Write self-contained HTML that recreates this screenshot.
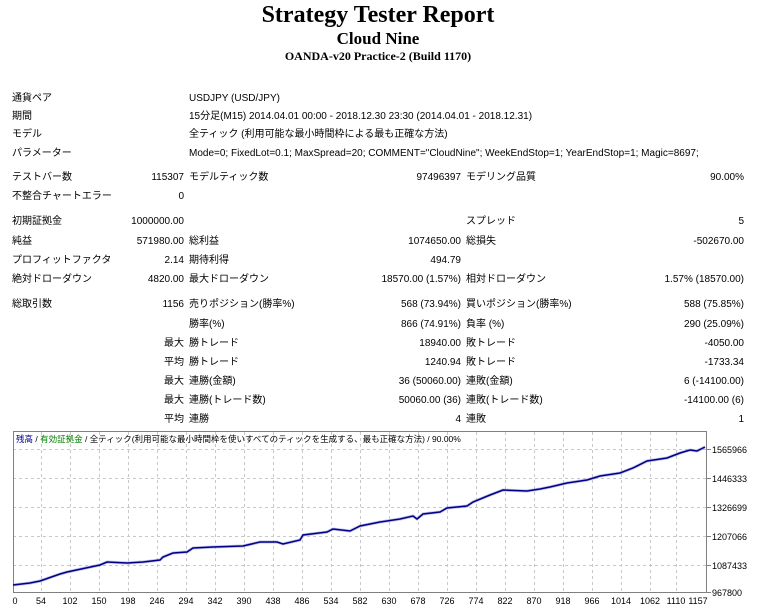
<!DOCTYPE html>
<html><head><meta charset="utf-8"><style>
body{margin:0;width:762px;height:609px;background:#fff;position:relative;overflow:hidden;font-family:"Liberation Sans","Noto Sans CJK JP",sans-serif;font-size:10px;color:#000}
.t{position:absolute;white-space:nowrap;line-height:12px;margin-top:2px}
.h{position:absolute;left:0;width:756px;text-align:center;font-family:"Liberation Serif",serif;font-weight:bold;white-space:nowrap}
.a{right:578px}.b{right:301px}.c{right:18px}
</style></head><body>
<div class="h" style="top:2px;font-size:24px">Strategy Tester Report</div>
<div class="h" style="top:29px;font-size:17px">Cloud Nine</div>
<div class="h" style="top:49px;font-size:12px">OANDA-v20 Practice-2 (Build 1170)</div>

<div class="t" style="left:12px;top:91px">通貨ペア</div><div class="t" style="left:189px;top:91px">USDJPY (USD/JPY)</div>
<div class="t" style="left:12px;top:109px">期間</div><div class="t" style="left:189px;top:109px">15分足(M15) 2014.04.01 00:00 - 2018.12.30 23:30 (2014.04.01 - 2018.12.31)</div>
<div class="t" style="left:12px;top:127px">モデル</div><div class="t" style="left:189px;top:127px">全ティック (利用可能な最小時間枠による最も正確な方法)</div>
<div class="t" style="left:12px;top:146px">パラメーター</div><div class="t" style="left:189px;top:146px">Mode=0; FixedLot=0.1; MaxSpread=20; COMMENT="CloudNine"; WeekEndStop=1; YearEndStop=1; Magic=8697;</div>

<div class="t" style="left:12px;top:170px">テストバー数</div><div class="t a" style="top:170px">115307</div><div class="t" style="left:189px;top:170px">モデルティック数</div><div class="t b" style="top:170px">97496397</div><div class="t" style="left:466px;top:170px">モデリング品質</div><div class="t c" style="top:170px">90.00%</div>
<div class="t" style="left:12px;top:189px">不整合チャートエラー</div><div class="t a" style="top:189px">0</div>

<div class="t" style="left:12px;top:214px">初期証拠金</div><div class="t a" style="top:214px">1000000.00</div><div class="t" style="left:466px;top:214px">スプレッド</div><div class="t c" style="top:214px">5</div>
<div class="t" style="left:12px;top:234px">純益</div><div class="t a" style="top:234px">571980.00</div><div class="t" style="left:189px;top:234px">総利益</div><div class="t b" style="top:234px">1074650.00</div><div class="t" style="left:466px;top:234px">総損失</div><div class="t c" style="top:234px">-502670.00</div>
<div class="t" style="left:12px;top:253px">プロフィットファクタ</div><div class="t a" style="top:253px">2.14</div><div class="t" style="left:189px;top:253px">期待利得</div><div class="t b" style="top:253px">494.79</div>
<div class="t" style="left:12px;top:272px">絶対ドローダウン</div><div class="t a" style="top:272px">4820.00</div><div class="t" style="left:189px;top:272px">最大ドローダウン</div><div class="t b" style="top:272px">18570.00 (1.57%)</div><div class="t" style="left:466px;top:272px">相対ドローダウン</div><div class="t c" style="top:272px">1.57% (18570.00)</div>

<div class="t" style="left:12px;top:297px">総取引数</div><div class="t a" style="top:297px">1156</div><div class="t" style="left:189px;top:297px">売りポジション(勝率%)</div><div class="t b" style="top:297px">568 (73.94%)</div><div class="t" style="left:466px;top:297px">買いポジション(勝率%)</div><div class="t c" style="top:297px">588 (75.85%)</div>
<div class="t" style="left:189px;top:317px">勝率(%)</div><div class="t b" style="top:317px">866 (74.91%)</div><div class="t" style="left:466px;top:317px">負率 (%)</div><div class="t c" style="top:317px">290 (25.09%)</div>
<div class="t a" style="top:336px">最大</div><div class="t" style="left:189px;top:336px">勝トレード</div><div class="t b" style="top:336px">18940.00</div><div class="t" style="left:466px;top:336px">敗トレード</div><div class="t c" style="top:336px">-4050.00</div>
<div class="t a" style="top:355px">平均</div><div class="t" style="left:189px;top:355px">勝トレード</div><div class="t b" style="top:355px">1240.94</div><div class="t" style="left:466px;top:355px">敗トレード</div><div class="t c" style="top:355px">-1733.34</div>
<div class="t a" style="top:374px">最大</div><div class="t" style="left:189px;top:374px">連勝(金額)</div><div class="t b" style="top:374px">36 (50060.00)</div><div class="t" style="left:466px;top:374px">連敗(金額)</div><div class="t c" style="top:374px">6 (-14100.00)</div>
<div class="t a" style="top:393px">最大</div><div class="t" style="left:189px;top:393px">連勝(トレード数)</div><div class="t b" style="top:393px">50060.00 (36)</div><div class="t" style="left:466px;top:393px">連敗(トレード数)</div><div class="t c" style="top:393px">-14100.00 (6)</div>
<div class="t a" style="top:412px">平均</div><div class="t" style="left:189px;top:412px">連勝</div><div class="t b" style="top:412px">4</div><div class="t" style="left:466px;top:412px">連敗</div><div class="t c" style="top:412px">1</div>

<svg style="position:absolute;left:0;top:0" width="762" height="609">
<g stroke="#c8c8c8" stroke-dasharray="3,3" stroke-width="1">
<line x1="13" x2="706" y1="449.5" y2="449.5"/><line x1="13" x2="706" y1="478.5" y2="478.5"/><line x1="13" x2="706" y1="507.5" y2="507.5"/><line x1="13" x2="706" y1="536.5" y2="536.5"/><line x1="13" x2="706" y1="565.5" y2="565.5"/>
<line x1="41.5" x2="41.5" y1="432" y2="592"/><line x1="70.5" x2="70.5" y1="432" y2="592"/><line x1="99.5" x2="99.5" y1="432" y2="592"/><line x1="128.5" x2="128.5" y1="432" y2="592"/><line x1="157.5" x2="157.5" y1="432" y2="592"/><line x1="186.5" x2="186.5" y1="432" y2="592"/><line x1="215.5" x2="215.5" y1="432" y2="592"/><line x1="244.5" x2="244.5" y1="432" y2="592"/><line x1="273.5" x2="273.5" y1="432" y2="592"/><line x1="302.5" x2="302.5" y1="432" y2="592"/><line x1="331.5" x2="331.5" y1="432" y2="592"/><line x1="360.5" x2="360.5" y1="432" y2="592"/><line x1="389.5" x2="389.5" y1="432" y2="592"/><line x1="418.5" x2="418.5" y1="432" y2="592"/><line x1="447.5" x2="447.5" y1="432" y2="592"/><line x1="476.5" x2="476.5" y1="432" y2="592"/><line x1="505.5" x2="505.5" y1="432" y2="592"/><line x1="534.5" x2="534.5" y1="432" y2="592"/><line x1="563.5" x2="563.5" y1="432" y2="592"/><line x1="592.5" x2="592.5" y1="432" y2="592"/><line x1="621.5" x2="621.5" y1="432" y2="592"/><line x1="650.5" x2="650.5" y1="432" y2="592"/><line x1="676.5" x2="676.5" y1="432" y2="592"/>
</g>
<rect x="13.5" y="431.5" width="693" height="161" fill="none" stroke="#808080"/>
<g stroke="#808080"><line x1="707" x2="711" y1="449.5" y2="449.5"/><line x1="707" x2="711" y1="478.5" y2="478.5"/><line x1="707" x2="711" y1="507.5" y2="507.5"/><line x1="707" x2="711" y1="536.5" y2="536.5"/><line x1="707" x2="711" y1="565.5" y2="565.5"/><line x1="707" x2="711" y1="592.5" y2="592.5"/></g>
<polyline fill="none" stroke="#8080d0" stroke-width="3" stroke-opacity="0.5" points="13,585 30,583 40,581 60,574 67,572 100,565 107,562 127,563 143,562 160,560 163,557 173,553 187,552 193,548 213,547 243,546 260,542 277,542 283,544 300,540 303,535 327,532 333,529 350,531 360,526 380,522 400,519 413,516 417,519 423,514 440,512 447,508 467,506 473,502 490,495 503,490 527,491 540,489 550,487 567,483 587,480 600,476 620,473 633,468 647,461 667,458 680,453 690,450 697,451 705,447"/>
<polyline fill="none" stroke="#00008b" stroke-width="1.5" points="13,585 30,583 40,581 60,574 67,572 100,565 107,562 127,563 143,562 160,560 163,557 173,553 187,552 193,548 213,547 243,546 260,542 277,542 283,544 300,540 303,535 327,532 333,529 350,531 360,526 380,522 400,519 413,516 417,519 423,514 440,512 447,508 467,506 473,502 490,495 503,490 527,491 540,489 550,487 567,483 587,480 600,476 620,473 633,468 647,461 667,458 680,453 690,450 697,451 705,447"/>
<g font-family="Liberation Sans, sans-serif" font-size="9" fill="#000">
<text x="712" y="453">1565966</text><text x="712" y="482">1446333</text><text x="712" y="511">1326699</text><text x="712" y="540">1207066</text><text x="712" y="569">1087433</text><text x="712" y="596">967800</text>
<g text-anchor="middle">
<text x="15" y="604">0</text><text x="41" y="604">54</text><text x="70" y="604">102</text><text x="99" y="604">150</text><text x="128" y="604">198</text><text x="157" y="604">246</text><text x="186" y="604">294</text><text x="215" y="604">342</text><text x="244" y="604">390</text><text x="273" y="604">438</text><text x="302" y="604">486</text><text x="331" y="604">534</text><text x="360" y="604">582</text><text x="389" y="604">630</text><text x="418" y="604">678</text><text x="447" y="604">726</text><text x="476" y="604">774</text><text x="505" y="604">822</text><text x="534" y="604">870</text><text x="563" y="604">918</text><text x="592" y="604">966</text><text x="621" y="604">1014</text><text x="650" y="604">1062</text><text x="676" y="604">1110</text><text x="698" y="604">1157</text>
</g></g>
<text x="16" y="442" font-family="Liberation Sans, Noto Sans CJK JP, sans-serif" font-size="8.5"><tspan fill="#00008b">残高</tspan> / <tspan fill="#008000">有効証拠金</tspan> / 全ティック(利用可能な最小時間枠を使いすべてのティックを生成する、最も正確な方法) / 90.00%</text>
</svg>
</body></html>
